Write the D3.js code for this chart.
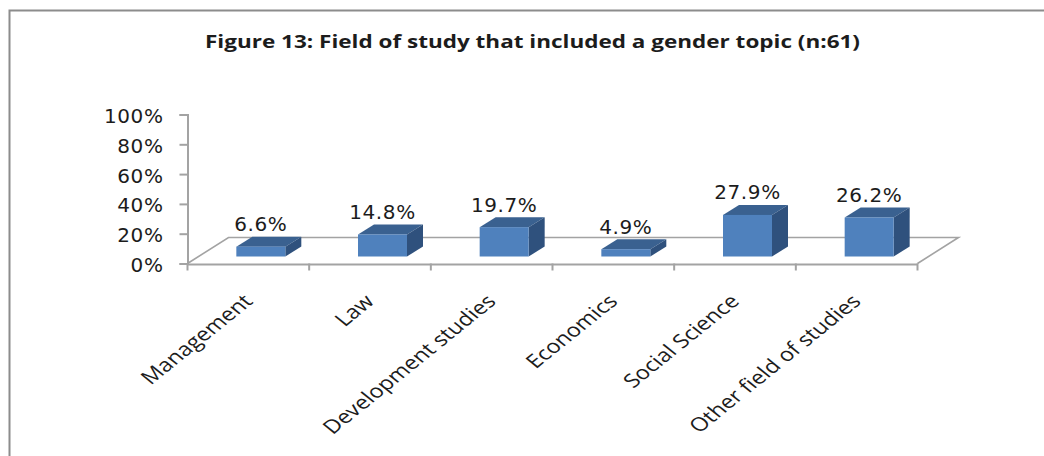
<!DOCTYPE html>
<html>
<head>
<meta charset="utf-8">
<script src="https://cdn.jsdelivr.net/npm/d3@7/dist/d3.min.js"></script>
<style>
  html, body { margin: 0; padding: 0; background: #fff; overflow: hidden; }
  svg { display: block; }
  text { font-family: "DejaVu Sans", sans-serif; fill: #1c1c1c; }
</style>
</head>
<body>
<svg id="chart" width="1044" height="456"></svg>
<script>
// Share of respondents per field of study
const categories = ["Management", "Law", "Development studies", "Economics", "Social Science", "Other field of studies"];
const shares = [6.6, 14.8, 19.7, 4.9, 27.9, 26.2];
const yTicks = [0, 20, 40, 60, 80, 100];
const chartTitle = "Figure 13: Field of study that included a gender topic (n:61)";

const svg = d3.select("#chart");
const gridGray = "#a3a3a3";

// Outer chart frame runs off the right and bottom of the page
svg.append("path")
  .attr("d", d3.line()([[9.5, 456], [9.5, 10.5], [1044, 10.5]]))
  .attr("fill", "none").attr("stroke", "#8c8c8c").attr("stroke-width", 2);

svg.append("text")
  .attr("x", 532.5).attr("y", 48)
  .attr("text-anchor", "middle")
  .attr("font-size", 18.5)
  .attr("font-weight", "bold")
  .attr("textLength", 655)
  .attr("lengthAdjust", "spacingAndGlyphs")
  .style("font-family", "'Open Sans', sans-serif")
  .text(chartTitle);

const x = d3.scaleBand().domain(categories).range([187.5, 917.5]);
const y = d3.scaleLinear().domain([0, 100]).range([263.5, 114.5]);

// Oblique projection offsets: floor depth and bar depth
const floorDx = 41, floorDy = -26;
const barDx = 16, barDy = -10;
const barShiftX = 12.5, barShiftY = -7;
const barWidth = 49;

// Perspective floor
const x0 = x.range()[0], x1 = x.range()[1], y0 = y(0);
svg.append("path")
  .attr("d", d3.line()([[x0, y0], [x0 + floorDx, y0 + floorDy], [x1 + floorDx, y0 + floorDy], [x1, y0]]))
  .attr("fill", "none").attr("stroke", gridGray).attr("stroke-width", 1.6);

// Value axis
const yAxis = svg.append("g")
  .attr("transform", `translate(${x0},0)`)
  .call(d3.axisLeft(y).tickValues(yTicks).tickSizeOuter(0).tickSize(8).tickFormat(d => d + "%"));
yAxis.selectAll("path, line").attr("stroke", gridGray).attr("stroke-width", 2);
yAxis.selectAll("text")
  .attr("font-size", 20).attr("font-family", null).attr("x", -24).attr("dy", "0.4em")
  .style("letter-spacing", "0.6px");

// Category axis
const xAxis = svg.append("g")
  .attr("transform", `translate(0,${y0 + 0.5})`)
  .call(d3.axisBottom(x).tickSize(0).tickFormat(""));
xAxis.select("path").attr("stroke", gridGray).attr("stroke-width", 2);
const tickEdges = categories.map(c => x(c)).concat(x1);
svg.append("g").selectAll("line").data(tickEdges).join("line")
  .attr("x1", d => d).attr("x2", d => d)
  .attr("y1", y0).attr("y2", y0 + 7)
  .attr("stroke", gridGray).attr("stroke-width", 2);

// 3D columns: top face, side face, front face
const bars = svg.append("g").selectAll("g").data(categories).join("g");
const left = c => x(c) + (x.bandwidth() - barWidth) / 2 + barShiftX;
const base = y0 + barShiftY;
const barH = i => y0 - y(shares[i]);

bars.append("path")
  .attr("fill", "#3a6190")
  .attr("d", (c, i) => {
    const l = left(c), t = base - barH(i);
    return d3.line()([[l, t], [l + barDx, t + barDy], [l + barWidth + barDx, t + barDy], [l + barWidth, t]]) + "Z";
  });
bars.append("path")
  .attr("fill", "#2f517d")
  .attr("d", (c, i) => {
    const r = left(c) + barWidth, t = base - barH(i);
    return d3.line()([[r, t], [r + barDx, t + barDy], [r + barDx, base + barDy], [r, base]]) + "Z";
  });
bars.append("rect")
  .attr("x", left).attr("width", barWidth)
  .attr("y", (c, i) => base - barH(i))
  .attr("height", (c, i) => barH(i))
  .attr("fill", "#4f81bd");

// Value labels above each column
bars.append("text")
  .attr("x", c => left(c) + barWidth / 2)
  .attr("y", (c, i) => base - barH(i) - 15.5)
  .attr("text-anchor", "middle")
  .attr("font-size", 20)
  .style("letter-spacing", "0.6px")
  .text((c, i) => shares[i].toFixed(1) + "%");

// Rotated category labels, widened along x and anchored at their end
bars.append("text")
  .attr("text-anchor", "end")
  .style("font-family", "'Open Sans', sans-serif")
  .attr("font-size", 19)
  .attr("transform", c => `translate(${x(c) + x.bandwidth() / 2 + 5.5},${y0 + 39}) scale(1.24,1) rotate(-45)`)
  .text(c => c);
</script>
</body>
</html>
